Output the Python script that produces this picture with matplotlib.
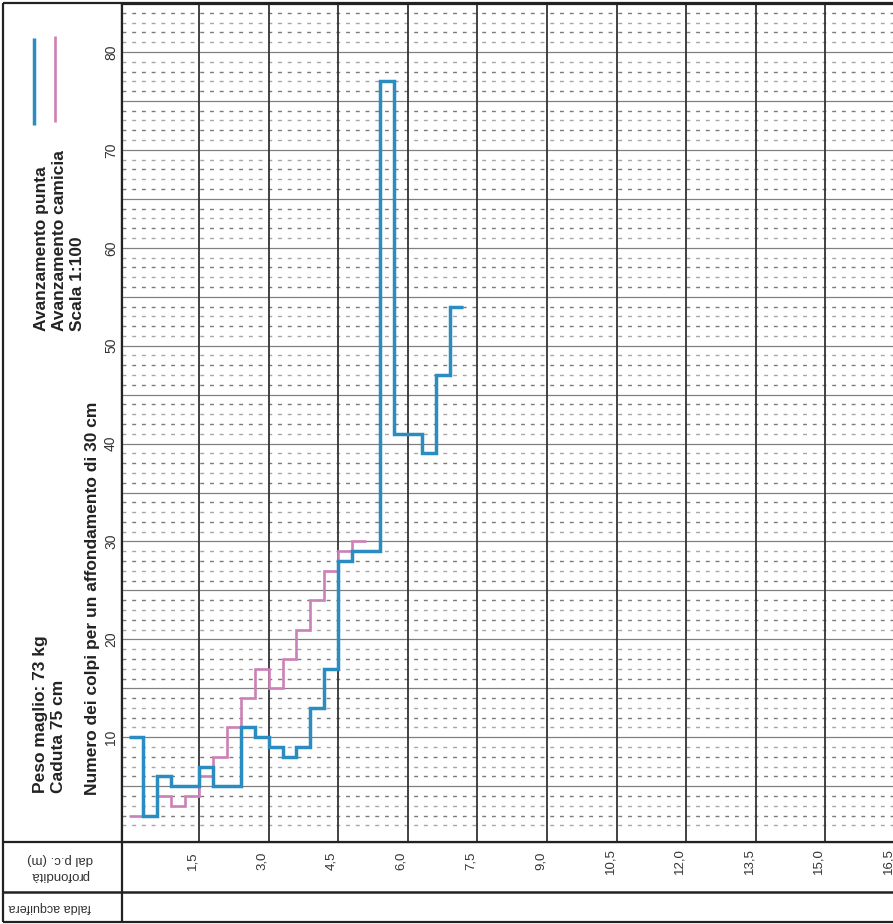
import numpy as np
import matplotlib
matplotlib.use("Agg")
import matplotlib.pyplot as plt
from matplotlib.lines import Line2D
from matplotlib.transforms import blended_transform_factory, ScaledTranslation

plt.rcParams['font.family'] = ['Liberation Sans', 'DejaVu Sans']

# Dynamic penetration test: blows counted for each 30 cm of advance
step_m = 0.3
colpi_punta = [10, 2, 6, 5, 5, 7, 5, 5, 11, 10, 9, 8, 9, 13, 17, 28, 29, 29,
               77, 41, 41, 39, 47, 54]
colpi_camicia = [2, 2, 4, 3, 4, 6, 8, 11, 14, 17, 15, 18, 21, 24, 27, 29, 30]

depth_ticks = [1.5, 3.0, 4.5, 6.0, 7.5, 9.0, 10.5, 12.0, 13.5, 15.0, 16.5]
depth_labels = ["1,5", "3,0", "4,5", "6,0", "7,5", "9,0", "10,5", "12,0",
                "13,5", "15,0", "16,5"]
blow_ticks = [10, 20, 30, 40, 50, 60, 70, 80]

BLUE = "#2a8cc0"
PINK = "#cc80b8"

W, H = 893, 924
fig = plt.figure(figsize=(W / 100, H / 100), dpi=100)
fig.patch.set_facecolor("white")


def fx(px):
    return px / W


def fy(px):
    return 1 - px / H


# ---- table frame drawn in pixel space --------------------------------------
frame = fig.add_axes([0, 0, 1, 1])
frame.set_xlim(0, W)
frame.set_ylim(H, 0)
frame.axis("off")
lc = "#222222"
for (xs, ys, lw) in [
    ((3, 3), (3, 922), 1.6),          # outer left
    ((3, W), (3, 3), 1.6),            # outer top
    ((3, W), (922, 922), 1.6),        # outer bottom
    ((122, 122), (3, 922), 1.6),      # column divider
    ((3, W), (842, 842), 1.6),        # depth row top
    ((3, W), (892, 892), 1.8),        # water table row top
]:
    frame.add_line(Line2D(xs, ys, color=lc, lw=lw, solid_capstyle="butt"))

# ---- main diagram ----------------------------------------------------------
ax = fig.add_axes([fx(122), fy(842), fx(W - 122), (842 - 4) / H])
ax.set_xlim(-0.16, 16.46)
ax.set_ylim(-0.7, 84.9)
ax.spines["right"].set_visible(False)
for s in ("left", "top", "bottom"):
    ax.spines[s].set_linewidth(1.6)
    ax.spines[s].set_color(lc)
ax.set_xticks([])
ax.set_yticks([])

# grid: 1-blow dashed rows, 5-blow solid rows, 1.5 m solid columns
for v in range(1, 85):
    if v % 5 == 0:
        ax.axhline(v, color="#808080", lw=0.9, zorder=1)
    else:
        col = "#7a7a7a" if v % 2 == 0 else "#a5a5a5"
        ax.axhline(v, color=col, lw=1.0, dashes=(2.8, 4.2), zorder=1)
for d in depth_ticks:
    ax.axvline(d, color="#333333", lw=1.3, zorder=1)

edges_p = step_m * np.arange(len(colpi_punta) + 1)
edges_c = step_m * np.arange(len(colpi_camicia) + 1)
ax.stairs(colpi_camicia, edges_c, baseline=None, color=PINK, lw=1.9, zorder=3)
ax.stairs(colpi_punta, edges_p, baseline=None, color=BLUE, lw=2.5, zorder=4)

# depth labels in the lower row
tr_x = blended_transform_factory(ax.transData, fig.transFigure) + \
    ScaledTranslation(-6.5 / 100, 0, fig.dpi_scale_trans)
for d, lab in zip(depth_ticks, depth_labels):
    fig.text(d, fy(861), lab, transform=tr_x, rotation=90, ha="center",
             va="center", fontsize=9.5, color="#333333")

# blow-count labels
tr_y = blended_transform_factory(fig.transFigure, ax.transData)
for b in blow_ticks:
    fig.text(fx(111), b, str(b), transform=tr_y, rotation=90, ha="center",
             va="center", fontsize=10, color="#333333")

# ---- left column texts -----------------------------------------------------
tk = dict(rotation=90, ha="center", va="bottom", fontsize=12.5,
          fontweight="bold", color="#222222")
fig.text(fx(93), fy(795), "Numero dei colpi per un affondamento di 30 cm", **tk)
fig.text(fx(41), fy(793), "Peso maglio: 73 kg", **tk)
fig.text(fx(59), fy(793), "Caduta 75 cm", **tk)
fig.text(fx(42), fy(331), "Avanzamento punta", **tk)
fig.text(fx(60), fy(331), "Avanzamento camicia", **tk)
fig.text(fx(78), fy(331), "Scala 1:100", **tk)

frame.add_line(Line2D((34, 34), (38, 125), color=BLUE, lw=2.5,
                      solid_capstyle="butt"))
frame.add_line(Line2D((55, 55), (36, 122), color=PINK, lw=1.9,
                      solid_capstyle="butt"))

fig.text(fx(60), fy(867), "profondità\ndal p.c. (m)", rotation=180,
         ha="center", va="center", fontsize=9.5, color="#333333",
         multialignment="center", linespacing=1.55)
fig.text(fx(50), fy(907), "falda acquifera", rotation=180, ha="center",
         va="center", fontsize=9, color="#333333")

fig.savefig("out.png", dpi=100, facecolor="white")
